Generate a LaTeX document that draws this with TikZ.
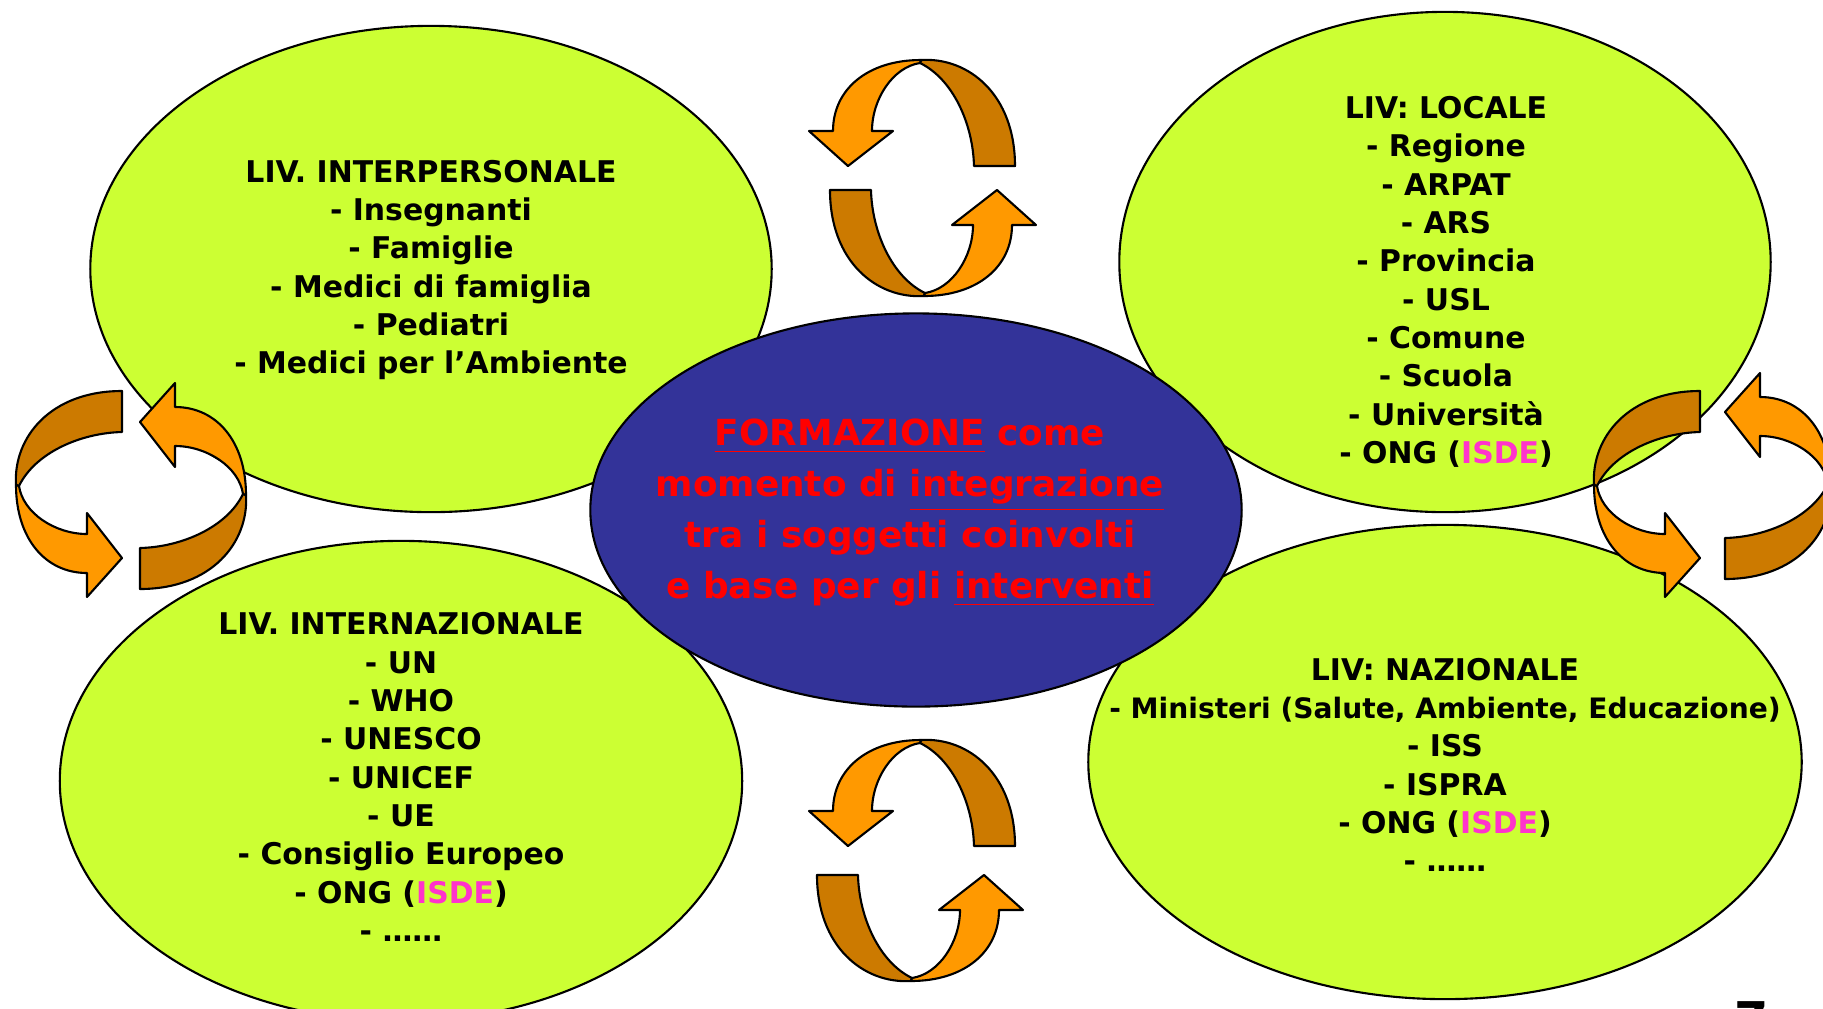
\documentclass[tikz,border=0pt]{standalone}
\usepackage{fontspec}
\setmainfont{DejaVu Sans}
\usetikzlibrary{shapes.geometric}

\definecolor{limegreen}{RGB}{204,255,51}
\definecolor{deepblue}{RGB}{51,51,153}
\definecolor{lightorange}{RGB}{255,153,0}
\definecolor{darkorange}{RGB}{204,122,0}
\definecolor{isdepink}{RGB}{255,51,204}

\tikzset{
  level/.style={ellipse, draw=black, line width=0.6pt, fill=limegreen, inner sep=0pt},
  leveltext/.style={align=center, font=\bfseries\fontsize{8.5}{10.9}\selectfont},
  halfloop/.pic={
    % back of the ribbon
    \filldraw[fill=darkorange, line width=0.6pt, line join=round]
      (-2,-119) .. controls (45,-122) and (92,-85) .. (92,-13) -- (51,-13)
      .. controls (50,-55) and (30,-100) .. (-3,-116) -- cycle;
    % front of the ribbon with its head
    \filldraw[fill=lightorange, line width=0.6pt, line join=round]
      (-2,-119) .. controls (-55,-119) and (-90,-90) .. (-90,-48) -- (-114,-48)
      -- (-75,-13) -- (-30,-48) -- (-51,-48)
      .. controls (-51,-80) and (-30,-112) .. (-3,-116) -- cycle;
  }
}

\begin{document}
\begin{tikzpicture}[x=0.01cm, y=-0.01cm]
    \useasboundingbox (0,0) rectangle (1823,1008);

    % Four levels
    \node [level, minimum width=6.81cm, minimum height=4.86cm] (interp) at (431,269) {};
    \node [level, minimum width=6.51cm, minimum height=5.00cm] (locale) at (1445,262) {};
    \node [level, minimum width=6.82cm, minimum height=4.80cm] (intern) at (401,781) {};
    \node [level, minimum width=7.13cm, minimum height=4.74cm] (nazion) at (1445,762) {};

    % Centre
    \node [ellipse, draw=black, line width=0.6pt, fill=deepblue, inner sep=0pt,
           minimum width=6.51cm, minimum height=3.93cm] (formaz) at (916,510) {};

    % Cycle arrows
    \foreach \px/\py/\rot in {923/179/0, 922/177/180, 923/859/0, 909/862/180,
                              135/483/90, 127/497/270, 1713/483/90, 1712/487/270}
        \pic [rotate=\rot] at (\px,\py) {halfloop};

    % Texts
    \node [leveltext] (interptext) at (431,270) {LIV. INTERPERSONALE\\- Insegnanti\\- Famiglie\\- Medici di famiglia\\- Pediatri\\- Medici per l’Ambiente};
    \node [leveltext] (localetext) at (1446,282) {LIV: LOCALE\\- Regione\\- ARPAT\\- ARS\\- Provincia\\- USL\\- Comune\\- Scuola\\- Università\\- ONG ({\color{isdepink}ISDE})};
    \node [leveltext] (interntext) at (401,777) {LIV. INTERNAZIONALE\\- UN\\- WHO\\- UNESCO\\- UNICEF\\- UE\\- Consiglio Europeo\\- ONG ({\color{isdepink}ISDE})\\- ……};
    \node [leveltext] (naziontext) at (1445,765) {LIV: NAZIONALE\\{\fontsize{8}{10.9}\selectfont - Ministeri (Salute, Ambiente, Educazione)}\\- ISS\\- ISPRA\\- ONG ({\color{isdepink}ISDE})\\- ……};
    \node [align=center, text=red, font=\bfseries\fontsize{10.2}{14.5}\selectfont] (formtext) at (910,513)
        {\underline{FORMAZIONE} come\\momento di \underline{integrazione}\\tra i soggetti coinvolti\\e base per gli \underline{interventi}};

    % Page number
    \node [anchor=north, font=\bfseries\fontsize{14}{16}\selectfont, inner sep=0pt] (pagenum) at (1752,1001) {7};
\end{tikzpicture}
\end{document}
